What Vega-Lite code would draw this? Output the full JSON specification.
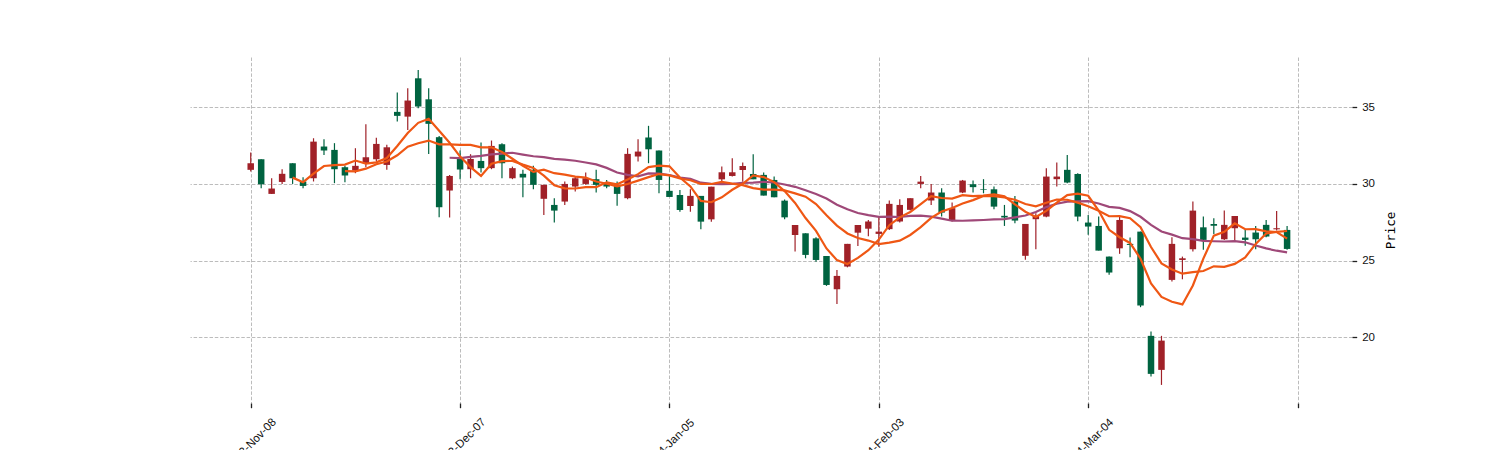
{
  "$schema": "https://vega.github.io/schema/vega-lite/v6.json",
  "width": 1162,
  "height": 346,
  "autosize": "none",
  "padding": {"left": 190, "top": 57, "right": 148, "bottom": 47},
  "background": "white",
  "config": {
    "view": {"stroke": null},
    "font": "Liberation Sans",
    "axis": {
      "domain": false,
      "grid": true,
      "gridColor": "#ababab",
      "gridDash": [3.5, 1.8],
      "gridWidth": 0.8,
      "ticks": true,
      "tickSize": 4.7,
      "tickColor": "#222222",
      "tickWidth": 1.3,
      "labelFont": "Liberation Sans",
      "labelFontSize": 11.5,
      "labelColor": "#111111",
      "titleFont": "DejaVu Sans Mono"
    }
  },
  "data": {
    "values": [
      {"i":0,"open":30.92,"high":32.05,"low":30.81,"close":31.35},
      {"i":1,"open":31.61,"high":31.61,"low":29.72,"close":29.98},
      {"i":2,"open":29.35,"high":30.37,"low":29.35,"close":29.70},
      {"i":3,"open":30.13,"high":30.96,"low":30.00,"close":30.66},
      {"i":4,"open":31.35,"high":31.35,"low":30.00,"close":30.37},
      {"i":5,"open":30.16,"high":30.44,"low":29.72,"close":29.87},
      {"i":6,"open":30.37,"high":32.98,"low":30.16,"close":32.76},
      {"i":7,"open":32.44,"high":32.92,"low":31.89,"close":32.18},
      {"i":8,"open":32.22,"high":32.66,"low":30.05,"close":30.96},
      {"i":9,"open":31.09,"high":31.18,"low":30.11,"close":30.55},
      {"i":10,"open":30.87,"high":32.33,"low":30.70,"close":31.18},
      {"i":11,"open":31.35,"high":33.89,"low":31.09,"close":31.74},
      {"i":12,"open":31.61,"high":33.02,"low":31.46,"close":32.61},
      {"i":13,"open":31.24,"high":32.55,"low":30.92,"close":32.39},
      {"i":14,"open":34.70,"high":35.96,"low":34.07,"close":34.44},
      {"i":15,"open":34.39,"high":36.24,"low":33.52,"close":35.44},
      {"i":16,"open":36.89,"high":37.44,"low":34.94,"close":35.05},
      {"i":17,"open":35.52,"high":36.24,"low":31.96,"close":33.92},
      {"i":18,"open":33.05,"high":33.13,"low":27.83,"close":28.48},
      {"i":19,"open":29.57,"high":30.59,"low":27.81,"close":30.52},
      {"i":20,"open":31.70,"high":32.18,"low":30.31,"close":30.94},
      {"i":21,"open":30.96,"high":31.94,"low":30.37,"close":31.63},
      {"i":22,"open":31.50,"high":32.70,"low":30.74,"close":31.03},
      {"i":23,"open":31.03,"high":32.83,"low":30.96,"close":32.48},
      {"i":24,"open":32.59,"high":32.65,"low":30.37,"close":31.35},
      {"i":25,"open":30.37,"high":31.13,"low":30.31,"close":31.03},
      {"i":26,"open":30.66,"high":30.92,"low":29.13,"close":30.42},
      {"i":27,"open":30.92,"high":31.18,"low":29.66,"close":29.94},
      {"i":28,"open":29.03,"high":29.94,"low":27.98,"close":29.94},
      {"i":29,"open":28.63,"high":29.07,"low":27.48,"close":28.26},
      {"i":30,"open":28.85,"high":30.16,"low":28.63,"close":30.00},
      {"i":31,"open":29.83,"high":30.48,"low":29.50,"close":30.37},
      {"i":32,"open":30.00,"high":30.74,"low":29.94,"close":30.37},
      {"i":33,"open":30.31,"high":30.92,"low":29.44,"close":29.94},
      {"i":34,"open":30.00,"high":30.26,"low":29.72,"close":29.83},
      {"i":35,"open":29.87,"high":30.16,"low":28.57,"close":29.35},
      {"i":36,"open":29.07,"high":32.33,"low":29.00,"close":31.96},
      {"i":37,"open":31.79,"high":32.92,"low":31.46,"close":32.11},
      {"i":38,"open":33.03,"high":33.79,"low":31.35,"close":32.26},
      {"i":39,"open":32.18,"high":32.18,"low":29.40,"close":30.26},
      {"i":40,"open":29.55,"high":30.50,"low":29.15,"close":29.15},
      {"i":41,"open":29.28,"high":29.61,"low":28.19,"close":28.30},
      {"i":42,"open":28.56,"high":29.65,"low":28.19,"close":29.22},
      {"i":43,"open":29.22,"high":29.22,"low":27.04,"close":27.54},
      {"i":44,"open":27.69,"high":29.82,"low":27.54,"close":29.82},
      {"i":45,"open":30.30,"high":31.13,"low":30.09,"close":30.76},
      {"i":46,"open":30.52,"high":31.67,"low":30.48,"close":30.76},
      {"i":47,"open":30.91,"high":31.39,"low":30.15,"close":31.17},
      {"i":48,"open":30.65,"high":31.93,"low":30.30,"close":30.30},
      {"i":49,"open":30.59,"high":30.74,"low":29.24,"close":29.24},
      {"i":50,"open":30.26,"high":30.48,"low":29.13,"close":29.13},
      {"i":51,"open":28.91,"high":28.98,"low":27.69,"close":27.82},
      {"i":52,"open":26.67,"high":27.32,"low":25.59,"close":27.32},
      {"i":53,"open":26.78,"high":26.78,"low":25.15,"close":25.37},
      {"i":54,"open":26.45,"high":26.52,"low":24.93,"close":25.04},
      {"i":55,"open":25.30,"high":25.30,"low":23.35,"close":23.41},
      {"i":56,"open":23.13,"high":24.39,"low":22.17,"close":24.00},
      {"i":57,"open":24.61,"high":26.09,"low":24.56,"close":26.09},
      {"i":58,"open":26.82,"high":27.32,"low":25.95,"close":27.32},
      {"i":59,"open":27.08,"high":27.65,"low":26.59,"close":27.55},
      {"i":60,"open":26.74,"high":27.87,"low":25.90,"close":26.89},
      {"i":61,"open":27.05,"high":28.92,"low":27.00,"close":28.70},
      {"i":62,"open":27.55,"high":29.00,"low":27.48,"close":28.63},
      {"i":63,"open":28.31,"high":29.07,"low":28.27,"close":29.07},
      {"i":64,"open":30.00,"high":30.52,"low":29.72,"close":30.15},
      {"i":65,"open":28.92,"high":30.00,"low":28.63,"close":29.44},
      {"i":66,"open":29.44,"high":29.72,"low":27.87,"close":28.13},
      {"i":67,"open":27.61,"high":28.79,"low":27.55,"close":28.42},
      {"i":68,"open":29.44,"high":30.26,"low":29.40,"close":30.22},
      {"i":69,"open":29.98,"high":30.22,"low":29.44,"close":29.79},
      {"i":70,"open":29.65,"high":30.31,"low":29.39,"close":29.61},
      {"i":71,"open":29.65,"high":29.83,"low":28.35,"close":28.52},
      {"i":72,"open":27.92,"high":28.63,"low":27.26,"close":27.81},
      {"i":73,"open":28.85,"high":29.22,"low":27.44,"close":27.61},
      {"i":74,"open":25.31,"high":27.39,"low":25.05,"close":27.39},
      {"i":75,"open":27.70,"high":28.09,"low":25.74,"close":27.92},
      {"i":76,"open":27.87,"high":31.02,"low":27.83,"close":30.48},
      {"i":77,"open":30.31,"high":31.39,"low":29.83,"close":30.48},
      {"i":78,"open":30.92,"high":31.89,"low":30.05,"close":30.09},
      {"i":79,"open":30.65,"high":30.70,"low":27.57,"close":27.87},
      {"i":80,"open":27.48,"high":27.98,"low":26.68,"close":27.22},
      {"i":81,"open":27.26,"high":27.87,"low":25.65,"close":25.65},
      {"i":82,"open":25.26,"high":25.26,"low":24.07,"close":24.22},
      {"i":83,"open":25.80,"high":27.87,"low":25.44,"close":27.65},
      {"i":84,"open":26.09,"high":26.50,"low":25.22,"close":26.02},
      {"i":85,"open":26.89,"high":26.89,"low":21.96,"close":22.07},
      {"i":86,"open":20.09,"high":20.37,"low":17.44,"close":17.61},
      {"i":87,"open":17.87,"high":20.09,"low":16.89,"close":19.78},
      {"i":88,"open":23.74,"high":26.52,"low":23.63,"close":26.09},
      {"i":89,"open":25.04,"high":25.26,"low":23.78,"close":25.15},
      {"i":90,"open":25.74,"high":28.85,"low":25.59,"close":28.26},
      {"i":91,"open":27.17,"high":27.87,"low":25.70,"close":26.35},
      {"i":92,"open":27.39,"high":27.76,"low":26.74,"close":27.28},
      {"i":93,"open":26.39,"high":28.26,"low":26.35,"close":27.33},
      {"i":94,"open":27.11,"high":27.91,"low":26.24,"close":27.91},
      {"i":95,"open":26.50,"high":27.00,"low":25.96,"close":26.35},
      {"i":96,"open":26.83,"high":27.26,"low":25.74,"close":26.39},
      {"i":97,"open":27.33,"high":27.65,"low":26.52,"close":26.57},
      {"i":98,"open":27.04,"high":28.24,"low":26.96,"close":27.11},
      {"i":99,"open":27.00,"high":27.26,"low":25.70,"close":25.76}
    ]
  },
  "encoding": {
    "x": {
      "field": "i",
      "type": "quantitative",
      "scale": {"domain": [-5.8, 105.2], "nice": false, "zero": false, "padding": 0},
      "axis": {
        "values": [0, 20, 40, 60, 80, 100],
        "title": null,
        "labelAngle": -45,
        "labelAlign": "center",
        "labelBaseline": "middle",
        "labelPadding": 36,
        "labelOverlap": false,
        "labelFlush": false,
        "labelBound": false,
        "labelExpr": "['2023-Nov-08','2023-Dec-07','2024-Jan-05','2024-Feb-03','2024-Mar-04',''][round(datum.value / 20)]"
      }
    }
  },
  "layer": [
    {
      "mark": {"type": "rule", "strokeWidth": 1.2},
      "encoding": {
        "y": {
          "field": "low",
          "type": "quantitative",
          "scale": {"domain": [15.71, 38.28], "nice": false, "zero": false},
          "axis": {
            "orient": "right",
            "values": [20, 25, 30, 35],
            "labelPadding": 5,
            "title": "Price",
            "titleAngle": 270,
            "titleFontSize": 12.5,
            "titleFontWeight": "normal",
            "titleColor": "#000000",
            "titleAlign": "center",
            "titleBaseline": "middle",
            "titleX": 38,
            "titleY": 173
          }
        },
        "y2": {"field": "high"},
        "color": {"condition": {"test": "datum.close >= datum.open", "value": "#a02128"}, "value": "#006340"}
      }
    },
    {
      "mark": {"type": "bar", "size": 6.5},
      "encoding": {
        "y": {"field": "open", "type": "quantitative", "title": "Price"},
        "y2": {"field": "close"},
        "color": {"condition": {"test": "datum.close >= datum.open", "value": "#a02128"}, "value": "#006340"}
      }
    },
    {
      "transform": [
        {"window": [{"op": "mean", "field": "close", "as": "ma"}, {"op": "count", "as": "n"}], "frame": [-19, 0], "sort": [{"field": "i", "order": "ascending"}]},
        {"filter": "datum.n >= 20"}
      ],
      "mark": {"type": "line", "color": "#9f4878", "strokeWidth": 2.2},
      "encoding": {"y": {"field": "ma", "type": "quantitative", "title": "Price"}}
    },
    {
      "transform": [
        {"window": [{"op": "mean", "field": "close", "as": "ma"}, {"op": "count", "as": "n"}], "frame": [-9, 0], "sort": [{"field": "i", "order": "ascending"}]},
        {"filter": "datum.n >= 10"}
      ],
      "mark": {"type": "line", "color": "#ef5714", "strokeWidth": 2.2},
      "encoding": {"y": {"field": "ma", "type": "quantitative", "title": "Price"}}
    },
    {
      "transform": [
        {"window": [{"op": "mean", "field": "close", "as": "ma"}, {"op": "count", "as": "n"}], "frame": [-4, 0], "sort": [{"field": "i", "order": "ascending"}]},
        {"filter": "datum.n >= 5"}
      ],
      "mark": {"type": "line", "color": "#ef5714", "strokeWidth": 2.2},
      "encoding": {"y": {"field": "ma", "type": "quantitative", "title": "Price"}}
    }
  ]
}
